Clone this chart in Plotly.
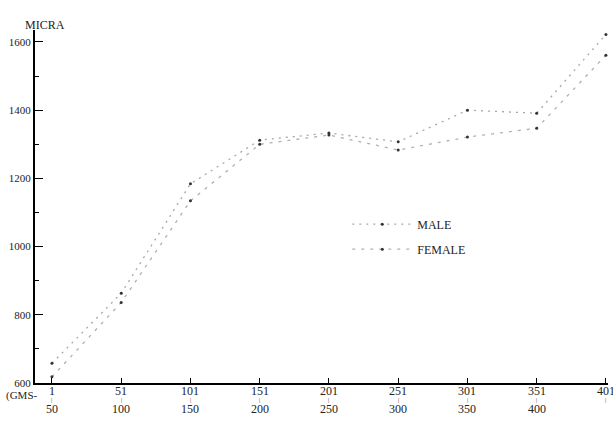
import plotly.graph_objects as go

# Weight classes (grams), lower and upper bounds of each class
class_low = ["1", "51", "101", "151", "201", "251", "301", "351", "401"]
class_high = ["50", "100", "150", "200", "250", "300", "350", "400", ""]

# Mean size (micra) per weight class
male = [658, 863, 1184, 1312, 1333, 1307, 1400, 1391, 1622]
female = [618, 836, 1134, 1300, 1327, 1283, 1321, 1347, 1561]

y_ticks = [600, 800, 1000, 1200, 1400, 1600]

FONT = "Liberation Serif"
INK = "#222222"

xs = list(range(len(class_low)))

fig = go.Figure()
fig.add_trace(go.Scatter(
    x=xs, y=male, name="MALE", mode="lines+markers",
    line=dict(color="#a8a8a8", width=1.3, dash="2px,5px"),
    marker=dict(color="#333333", size=3),
    legendgroup="m",
))
fig.add_trace(go.Scatter(
    x=xs, y=female, name="FEMALE", mode="lines+markers",
    line=dict(color="#b0b0b0", width=1.3, dash="3px,6px"),
    marker=dict(color="#333333", size=3),
    legendgroup="f",
))

annotations = []
# two-row category labels under the x axis: lower bound, dash, upper bound
for i, (lo, hi) in enumerate(zip(class_low, class_high)):
    annotations.append(dict(x=i, y=-0.024, xref="x", yref="paper", text=lo,
                            showarrow=False, yanchor="middle",
                            font=dict(family=FONT, size=12, color=INK)))
    annotations.append(dict(x=i, y=-0.049, xref="x", yref="paper", text="|",
                            showarrow=False, yanchor="middle",
                            font=dict(family=FONT, size=6, color=INK)))
    if hi:
        annotations.append(dict(x=i, y=-0.074, xref="x", yref="paper", text=hi,
                                showarrow=False, yanchor="middle",
                                font=dict(family=FONT, size=12, color=INK)))

annotations.append(dict(x=-0.021, y=1.04, xref="paper", yref="paper", text="MICRA",
                        showarrow=False, font=dict(family=FONT, size=12, color=INK)))
annotations.append(dict(x=-0.022, y=-0.036, xref="paper", yref="paper", text="(GMS-",
                        showarrow=False, xanchor="center", yanchor="middle",
                        font=dict(family=FONT, size=11, color=INK)))

fig.update_layout(
    width=613, height=421,
    margin=dict(l=35, r=5, t=30, b=38),
    paper_bgcolor="white", plot_bgcolor="white",
    font=dict(family=FONT, size=12, color=INK),
    showlegend=True,
    legend=dict(x=0.545, y=0.491, xanchor="left", yanchor="top",
                bgcolor="rgba(0,0,0,0)", itemwidth=60, tracegroupgap=6,
                font=dict(family=FONT, size=12, color=INK)),
    annotations=annotations,
)
fig.update_xaxes(
    range=[-0.245, 8.03], showline=True, linecolor="black", linewidth=2,
    showgrid=False, zeroline=False, tickmode="array", tickvals=xs,
    ticktext=["" for _ in xs], ticks="inside", ticklen=5, tickcolor="black",
)
fig.update_yaxes(
    range=[600, 1635], showline=True, linecolor="black", linewidth=2,
    showgrid=False, zeroline=False, tickmode="array", tickvals=y_ticks,
    ticks="inside", ticklen=8, tickcolor="black",
    minor=dict(dtick=100, ticks="inside", ticklen=4, tickcolor="black"),
    tickfont=dict(family=FONT, size=11, color=INK),
)

fig.write_html("out.html")
